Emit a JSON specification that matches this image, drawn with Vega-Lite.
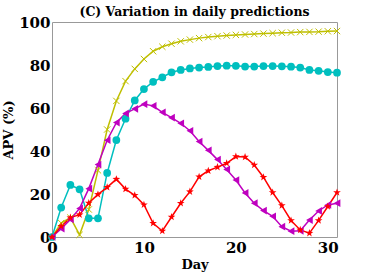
{
  "$schema": "https://vega.github.io/schema/vega-lite/v6.json",
  "width": 285,
  "height": 215,
  "autosize": "none",
  "padding": {"left": 52, "top": 22, "right": 37, "bottom": 36},
  "background": "white",
  "config": {
    "view": {"stroke": "#999999", "strokeWidth": 1},
    "font": "DejaVu Serif"
  },
  "title": {
    "text": "(C) Variation in daily predictions",
    "font": "DejaVu Serif",
    "fontSize": 12.5,
    "fontWeight": "bold",
    "color": "black",
    "offset": -3,
    "anchor": "middle"
  },
  "data": {
    "values": [
      {"day": 0, "y": 0, "c": 0, "m": 0, "r": 0},
      {"day": 1, "y": 6.5, "c": 13.7, "m": 3.9, "r": 5},
      {"day": 2, "y": 9, "c": 24.2, "m": 8.2, "r": 9},
      {"day": 3, "y": 1, "c": 22.2, "m": 13.3, "r": 10.4},
      {"day": 4, "y": 12.8, "c": 8.7, "m": 22.5, "r": 15.8},
      {"day": 5, "y": 31, "c": 8.7, "m": 33.7, "r": 19.8},
      {"day": 6, "y": 50, "c": 29.8, "m": 45, "r": 23.1},
      {"day": 7, "y": 63.3, "c": 45.1, "m": 53.2, "r": 26.9},
      {"day": 8, "y": 72.5, "c": 55, "m": 57.5, "r": 22.3},
      {"day": 9, "y": 78.2, "c": 63.5, "m": 59.6, "r": 19.4},
      {"day": 10, "y": 82.8, "c": 68.8, "m": 61.8, "r": 15},
      {"day": 11, "y": 86.4, "c": 72.2, "m": 61, "r": 6.4},
      {"day": 12, "y": 88.5, "c": 74.3, "m": 58, "r": 2.8},
      {"day": 13, "y": 89.9, "c": 76.6, "m": 55.5, "r": 9.3},
      {"day": 14, "y": 91, "c": 77.7, "m": 52.9, "r": 15.7},
      {"day": 15, "y": 91.8, "c": 78.4, "m": 49.4, "r": 21.1},
      {"day": 16, "y": 92.5, "c": 78.8, "m": 44.4, "r": 28},
      {"day": 17, "y": 93, "c": 79.1, "m": 40.3, "r": 30.8},
      {"day": 18, "y": 93.4, "c": 79.5, "m": 36, "r": 32.5},
      {"day": 19, "y": 93.7, "c": 79.7, "m": 31.4, "r": 34.3},
      {"day": 20, "y": 94, "c": 79.6, "m": 26.5, "r": 37.4},
      {"day": 21, "y": 94.2, "c": 79.3, "m": 20.5, "r": 37.2},
      {"day": 22, "y": 94.4, "c": 79.3, "m": 15.7, "r": 33.5},
      {"day": 23, "y": 94.6, "c": 79.5, "m": 12.3, "r": 27.8},
      {"day": 24, "y": 94.8, "c": 79.5, "m": 9.6, "r": 20.7},
      {"day": 25, "y": 95, "c": 79.4, "m": 4.8, "r": 14.6},
      {"day": 26, "y": 95.1, "c": 79.2, "m": 2.7, "r": 7.7},
      {"day": 27, "y": 95.3, "c": 78.8, "m": 2.9, "r": 3.3},
      {"day": 28, "y": 95.4, "c": 77.7, "m": 7.9, "r": 1.8},
      {"day": 29, "y": 95.5, "c": 77.3, "m": 12.1, "r": 7.7},
      {"day": 30, "y": 95.7, "c": 76.7, "m": 14.9, "r": 14.2},
      {"day": 31, "y": 95.8, "c": 76.4, "m": 15.7, "r": 20.7}
    ]
  },
  "transform": [
    {"fold": ["y", "c", "m", "r"], "as": ["series", "apv"]}
  ],
  "encoding": {
    "x": {
      "field": "day",
      "type": "quantitative",
      "scale": {"domain": [0, 31], "nice": false},
      "axis": {
        "title": "Day",
        "values": [0, 10, 20, 30],
        "grid": false,
        "ticks": false,
        "domain": false,
        "labelFlush": false,
        "labelFont": "DejaVu Serif",
        "labelFontSize": 15,
        "labelFontWeight": "bold",
        "labelColor": "black",
        "labelPadding": 3,
        "titleFont": "DejaVu Serif",
        "titleFontSize": 13,
        "titleFontWeight": "bold",
        "titleColor": "black",
        "titlePadding": 3
      }
    },
    "y": {
      "field": "apv",
      "type": "quantitative",
      "scale": {"domain": [0, 100], "nice": false},
      "axis": {
        "title": "APV (%)",
        "values": [0, 20, 40, 60, 80, 100],
        "grid": false,
        "ticks": false,
        "domain": false,
        "labelFont": "DejaVu Serif",
        "labelFontSize": 15,
        "labelFontWeight": "bold",
        "labelColor": "black",
        "labelPadding": 2,
        "titleFont": "DejaVu Serif",
        "titleFontSize": 13,
        "titleFontWeight": "bold",
        "titleColor": "black",
        "titlePadding": 3
      }
    }
  },
  "layer": [
    {
      "mark": {"type": "line", "strokeWidth": 1.5},
      "encoding": {
        "color": {
          "field": "series",
          "type": "nominal",
          "scale": {"domain": ["y", "c", "m", "r"], "range": ["#bfbf00", "#00bfbf", "#bf00bf", "#ff0000"]},
          "legend": null
        },
        "order": {"field": "day"}
      }
    },
    {
      "transform": [{"filter": "datum.series === 'y'"}],
      "mark": {"type": "point", "shape": "M-1,-1L1,1M-1,1L1,-1", "filled": false, "stroke": "#bfbf00", "strokeWidth": 1, "size": 40, "opacity": 1}
    },
    {
      "transform": [{"filter": "datum.series === 'c'"}],
      "mark": {"type": "point", "shape": "circle", "filled": true, "fill": "#00bfbf", "size": 60, "opacity": 1}
    },
    {
      "transform": [{"filter": "datum.series === 'm'"}],
      "mark": {"type": "point", "shape": "triangle-left", "filled": true, "fill": "#bf00bf", "size": 60, "opacity": 1}
    },
    {
      "transform": [{"filter": "datum.series === 'r'"}],
      "mark": {"type": "point", "shape": "M0,-1L0.235,-0.324L0.951,-0.309L0.38,0.124L0.588,0.809L0,0.4L-0.588,0.809L-0.38,0.124L-0.951,-0.309L-0.235,-0.324Z", "filled": true, "fill": "#ff0000", "size": 65, "opacity": 1}
    }
  ]
}
